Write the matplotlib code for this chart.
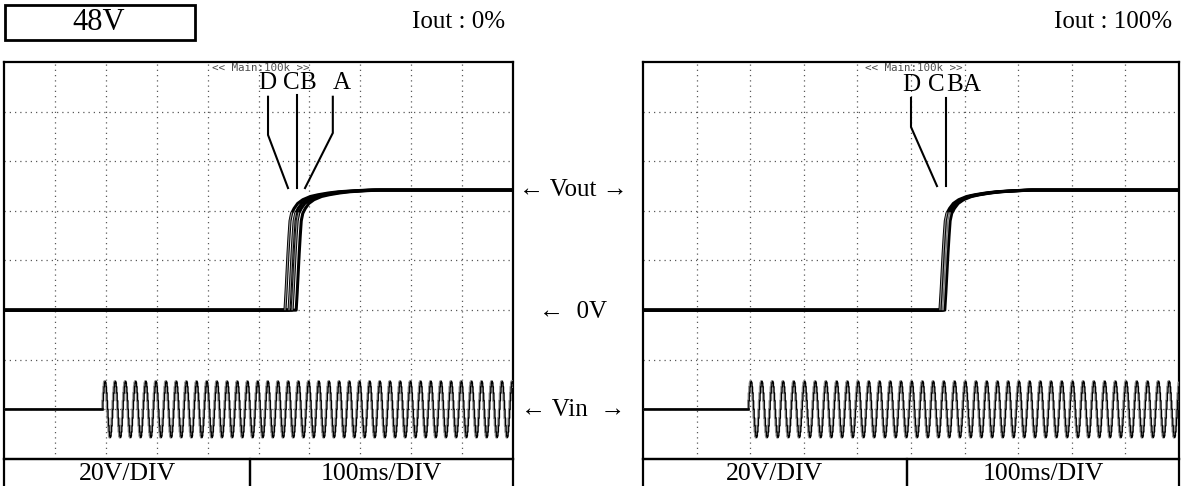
import matplotlib
matplotlib.use("Agg")
import matplotlib.pyplot as plt
from matplotlib.patches import Rectangle
import numpy as np

# ---- scope settings -------------------------------------------------------
volts_per_div = 20          # V/DIV
ms_per_div = 100            # ms/DIV
n_xdiv, n_ydiv = 10, 8
y_bottom = -60              # screen bottom in volts (0 V sits 3 divisions up)
vin_offset = -40            # Vin trace reference level

# ---- Vout turn-on shape: time after start (ms) vs. output voltage (V) -----
rise_dt_ms = [0, 2, 4, 6, 8, 10, 13, 18, 25, 35, 50, 65, 85, 105, 135, 165]
rise_v = [0, 7, 15, 23, 30, 36, 39, 41, 43, 44.5, 45.8, 46.5, 47.2, 47.7, 48.1, 48.4]

# start of the output rise for each trace (ms)
traces = ["D", "C", "B", "A"]
start_iout0 = [552, 560, 566, 574]
start_iout100 = [554, 558, 560, 563]

# ---- Vin: one 50 Hz mains cycle sampled every 1 ms (V) --------------------
vin_period_ms = 20
vin_cycle_v = [0, 3.5, 6.6, 9.1, 10.7, 11.3, 10.7, 9.1, 6.6, 3.5,
               0, -3.5, -6.6, -9.1, -10.7, -11.3, -10.7, -9.1, -6.6, -3.5]
vin_start_iout0 = 193
vin_start_iout100 = 196

# ---- labels ---------------------------------------------------------------
title_box = "48V"
panel_titles = ["Iout : 0%", "Iout : 100%"]
scale_labels = ["20V/DIV", "100ms/DIV"]
mid_labels = ["\u2190 Vout \u2192", "\u2190  0V", "\u2190 Vin  \u2192"]
scope_header = "<< Main:100k >>"

W, H = 1182, 486
SERIF = ["Liberation Serif", "DejaVu Serif"]


def fx(x):
    return x / W


def fy(y):
    return 1 - y / H


fig = plt.figure(figsize=(W / 100, H / 100), dpi=100)
fig.patch.set_facecolor("white")


def vout_curve(t0):
    t = [0.0, float(t0)] + [t0 + d for d in rise_dt_ms[1:]] + [1000.0]
    v = [0.0, 0.0] + list(rise_v[1:]) + [rise_v[-1]]
    return np.array(t), np.array(v)


def vin_curve(t_start):
    t = [0.0, float(t_start)]
    v = [vin_offset, vin_offset]
    k = 0
    while True:
        base = t_start + k * vin_period_ms
        if base > 1000:
            break
        for i, val in enumerate(vin_cycle_v):
            tt = base + i * vin_period_ms / len(vin_cycle_v)
            if tt > 1000:
                break
            t.append(tt)
            v.append(vin_offset + val)
        k += 1
    return np.array(t), np.array(v)


def setup_screen(ax):
    ax.set_xlim(0, n_xdiv * ms_per_div)
    ax.set_ylim(y_bottom, y_bottom + n_ydiv * volts_per_div)
    ax.set_xticks([ms_per_div * i for i in range(1, n_xdiv)])
    ax.set_yticks([y_bottom + volts_per_div * i for i in range(1, n_ydiv)])
    ax.tick_params(length=0, labelbottom=False, labelleft=False)
    ax.grid(True, color="0.35", linestyle=(0, (1, 3.2)), linewidth=0.9)
    for s in ax.spines.values():
        s.set_linewidth(1.6)
        s.set_color("black")


def draw_screen(ax, starts, vin_start):
    setup_screen(ax)
    # input waveform: grey body with black edge trace
    t, v = vin_curve(vin_start)
    ax.plot(t, v, color="0.55", lw=1.8, zorder=3, drawstyle="steps-mid")
    ax.plot(t + 0.9, v, color="black", lw=0.8, zorder=4, drawstyle="steps-mid")
    ax.plot([0, vin_start], [vin_offset, vin_offset], color="black", lw=1.8, zorder=5)
    # output traces D..A
    for t0 in starts:
        t, v = vout_curve(t0)
        ax.plot(t, v, color="black", lw=2.2, zorder=6, solid_capstyle="butt")
    for t0 in starts[:-1]:
        t, v = vout_curve(t0)
        sel = (t >= t0) & (t <= t0 + 13)
        ax.plot(t[sel], v[sel] + 0.2, color="0.6", lw=0.8, zorder=7)
    ax.text(0.505, 0.997, scope_header, transform=ax.transAxes, ha="center",
            va="top", fontsize=7.8, family="DejaVu Sans Mono", color="0.3", zorder=8)


ax0 = fig.add_axes([fx(4), fy(459), fx(509), 397 / H])
ax1 = fig.add_axes([fx(643), fy(459), fx(536), 397 / H])
draw_screen(ax0, start_iout0, vin_start_iout0)
draw_screen(ax1, start_iout100, vin_start_iout100)

# trace letters and pointer lines
letter_kw = dict(ha="center", va="center", fontsize=18, family=SERIF, zorder=9)
for x, s in zip([517, 564, 597, 664], traces):
    ax0.text(x, 91.7, s, **letter_kw)
for x, s in zip([500, 548, 582, 614], traces):
    ax1.text(x, 90.7, s, **letter_kw)
line_kw = dict(color="black", lw=1.5, zorder=9, solid_joinstyle="miter")
ax0.plot([518.7, 518.7, 558], [86, 70.6, 49.2], **line_kw)
ax0.plot([575.6, 575.6], [86.7, 49.2], **line_kw)
ax0.plot([646, 646, 591.4], [86, 71.4, 49.2], **line_kw)
ax1.plot([500, 500, 548.5], [85.5, 73.8, 50], **line_kw)
ax1.plot([565.3, 565.3], [85.5, 50], **line_kw)

# header
fig.add_artist(Rectangle((fx(5), fy(40)), fx(190), 35 / H, transform=fig.transFigure,
                         fill=False, lw=2, edgecolor="black"))
fig.text(fx(99), fy(23), title_box, ha="center", va="center", fontsize=22, family=SERIF)
fig.text(fx(505), fy(22), panel_titles[0], ha="right", va="center", fontsize=18, family=SERIF)
fig.text(fx(1172), fy(22), panel_titles[1], ha="right", va="center", fontsize=18, family=SERIF)

# middle annotations
for y, s in zip([190, 312, 410], mid_labels):
    fig.text(fx(573), fy(y), s, ha="center", va="center", fontsize=18, family=SERIF)

# scale boxes under each screen
for x0, xm, x1 in [(4, 250, 513), (643, 907, 1179)]:
    for a, b, s in [(x0, xm, scale_labels[0]), (xm, x1, scale_labels[1])]:
        fig.add_artist(Rectangle((fx(a), fy(490)), fx(b - a), 31 / H,
                                 transform=fig.transFigure, fill=False, lw=1.6,
                                 edgecolor="black"))
        fig.text(fx((a + b) / 2), fy(474), s, ha="center", va="center",
                 fontsize=18.5, family=SERIF)

fig.savefig("out.png", dpi=100, facecolor="white")
